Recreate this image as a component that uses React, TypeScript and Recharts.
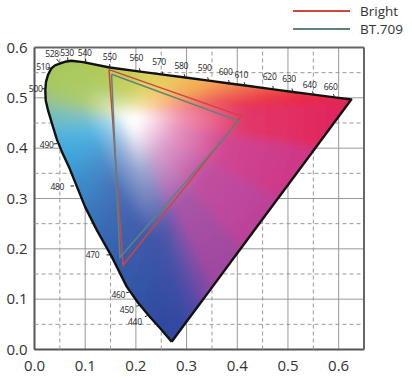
import React from "react";
import { ScatterChart, Scatter, XAxis, YAxis, CartesianGrid } from "recharts";

// axes
const xDomain = [0, 0.65];
const yDomain = [0, 0.6];
const xTicks = [0, 0.1, 0.2, 0.3, 0.4, 0.5, 0.6];
const yTicks = [0, 0.1, 0.2, 0.3, 0.4, 0.5, 0.6];
const xHalfTicks = [0.05, 0.15, 0.25, 0.35, 0.45, 0.55];
const yHalfTicks = [0.05, 0.15, 0.25, 0.35, 0.45, 0.55];

// spectral locus (u', v'), starting at the blue tip, round the horseshoe, back along the purple line
const locusU = [
  0.2706, 0.2475, 0.2278, 0.2047, 0.1819, 0.1523, 0.1227, 0.0996, 0.0799, 0.068,
  0.0542, 0.0444, 0.0365, 0.0266, 0.0221, 0.0213, 0.0227, 0.0266, 0.0331, 0.0404,
  0.0497, 0.0602, 0.0726, 0.0957, 0.1483, 0.2087, 0.2535, 0.2974, 0.3436, 0.385,
  0.4158, 0.4718, 0.5099, 0.5507, 0.5921, 0.6249, 0.5537, 0.4801, 0.4065, 0.3476,
  0.3255, 0.3034,
];
const locusV = [
  0.0155, 0.0427, 0.0646, 0.0924, 0.1249, 0.1845, 0.2376, 0.2839, 0.333, 0.3628,
  0.3926, 0.4165, 0.4423, 0.4755, 0.4954, 0.5153, 0.5318, 0.5457, 0.5583, 0.5646,
  0.5682, 0.5716, 0.5736, 0.571, 0.5602, 0.5521, 0.5461, 0.5404, 0.5342, 0.5286,
  0.5245, 0.5169, 0.5117, 0.5064, 0.5008, 0.4966, 0.4, 0.3, 0.2, 0.12,
  0.09, 0.06,
];
// colour of the diagram along the locus
const locusColors = [
  "#2c469e", "#2e4aa2", "#2f4ea4", "#3152a6", "#3256a8", "#3460ae", "#366cb6", "#387cc0", "#3a8ecc", "#3c9cd6",
  "#40a8dc", "#48b0de", "#5cb6d4", "#80bfb0", "#96c48a", "#a2c66c", "#a6c860", "#a8c85c", "#a8c85a", "#a8c85a",
  "#a8c85a", "#a8c85a", "#a9c858", "#aac858", "#b4ca52", "#d0d058", "#e4d060", "#f0c058", "#f4a852", "#f49050",
  "#f07850", "#ec5048", "#ea3a44", "#e82a42", "#e82240", "#e81e40", "#d8307a", "#c23e94", "#b4449c", "#8c48a2",
  "#6048a6", "#3a4aa4",
];
const whitePoint = { u: 0.19, v: 0.46 };

// gamut triangles
const brightU = [0.147, 0.408, 0.1746];
const brightV = [0.556, 0.4636, 0.1674];
const bt709U = [0.152, 0.403, 0.1686];
const bt709V = [0.547, 0.454, 0.1833];

// wavelength marks: tick on the locus and label centre
const markNm = [440, 450, 460, 470, 480, 490, 500, 510, 528, 530, 540, 550, 560, 570, 580, 590, 600, 610, 620, 630, 640, 660];
const markU = [0.2239, 0.2075, 0.1878, 0.1489, 0.0779, 0.0444, 0.0217, 0.0325, 0.0483, 0.0661, 0.1016, 0.1483, 0.2087, 0.2535, 0.2974, 0.3436, 0.385, 0.4158, 0.4718, 0.5099, 0.5507, 0.5921];
const markV = [0.068, 0.0879, 0.1143, 0.1879, 0.325, 0.4091, 0.5179, 0.5586, 0.5716, 0.5736, 0.5706, 0.5602, 0.5521, 0.5461, 0.5404, 0.5342, 0.5286, 0.5245, 0.5169, 0.5117, 0.5064, 0.5008];
const labelU = [0.198, 0.1819, 0.1653, 0.1144, 0.045, 0.0241, 0.0024, 0.0168, 0.0345, 0.0641, 0.099, 0.1483, 0.2008, 0.2456, 0.2895, 0.3357, 0.3771, 0.4079, 0.4639, 0.502, 0.5428, 0.5842];
const labelV = [0.0553, 0.0799, 0.1097, 0.1885, 0.3237, 0.4066, 0.5185, 0.5616, 0.5875, 0.5895, 0.5895, 0.5815, 0.5795, 0.5716, 0.565, 0.5602, 0.5517, 0.5471, 0.5431, 0.5384, 0.5272, 0.5233];

const series = [
  { name: "Bright", color: "#d0453c" },
  { name: "BT.709", color: "#5e8282" },
];

const FONT = "'Open Sans', 'Noto Sans', sans-serif";

type Pt = { x: number; y: number };
type RGB = number[];

const rgb = (h: string): RGB => {
  const n = parseInt(h.slice(1), 16);
  return [(n >> 16) & 255, (n >> 8) & 255, n & 255];
};
const mixRgb = (a: RGB, b: RGB, t: number): RGB => a.map((v, i) => Math.round(v + (b[i] - v) * t));
const css = (c: RGB) => `rgb(${c.join(",")})`;

const locusData = locusU.map((u, i) => ({ u, v: locusV[i] }));
const fanData = [whitePoint, ...locusData];
const outlineData = [...locusData, locusData[0]];
const brightData = [...brightU, brightU[0]].map((u, i) => ({ u, v: [...brightV, brightV[0]][i] }));
const bt709Data = [...bt709U, bt709U[0]].map((u, i) => ({ u, v: [...bt709V, bt709V[0]][i] }));

const dashedGrid = [
  ...xHalfTicks.flatMap((u) => [{ u, v: yDomain[0] }, { u, v: yDomain[1] }]),
  ...yHalfTicks.flatMap((v) => [{ u: xDomain[0], v }, { u: xDomain[1], v }]),
];
const frameData = [
  { u: xDomain[0], v: yDomain[1] }, { u: xDomain[1], v: yDomain[1] },
  { u: xDomain[1], v: yDomain[0] }, { u: xDomain[1], v: yDomain[1] },
];
const markTickData = markNm.flatMap((_, i) => [
  { u: markU[i], v: markV[i] },
  { u: labelU[i], v: labelV[i] },
]);
const markLabelData = markNm.map((nm, i) => ({ u: labelU[i], v: labelV[i], nm }));

const noShape = () => <g />;

function segments(style: Record<string, any>) {
  return (props: any) => {
    const p: Pt[] = props.points || [];
    let d = "";
    for (let i = 0; i + 1 < p.length; i += 2) d += `M${p[i].x},${p[i].y}L${p[i + 1].x},${p[i + 1].y}`;
    return <path d={d} fill="none" {...style} />;
  };
}

function markTicks(props: any) {
  const p: Pt[] = props.points || [];
  let d = "";
  for (let i = 0; i + 1 < p.length; i += 2) {
    const dx = p[i + 1].x - p[i].x;
    const dy = p[i + 1].y - p[i].y;
    const len = Math.hypot(dx, dy) || 1;
    d += `M${p[i].x},${p[i].y}L${p[i].x + (dx / len) * 3.5},${p[i].y + (dy / len) * 3.5}`;
  }
  return <path d={d} fill="none" stroke="#222" strokeWidth={1} />;
}

// colour fill: a fan of triangles from the white point, each shading from the locus colour to white
function fan(props: any) {
  const pts: Pt[] = props.points || [];
  if (pts.length < 4) return <g />;
  const w = pts[0];
  const ring = pts.slice(1);
  const n = ring.length;
  const grow = (p: Pt) => ({ x: w.x + (p.x - w.x) * 1.15, y: w.y + (p.y - w.y) * 1.15 });
  const clip = "M" + ring.map((p) => `${p.x},${p.y}`).join("L") + "Z";
  const white: RGB = [255, 255, 255];
  return (
    <g>
      <defs>
        <clipPath id="locusClip">
          <path d={clip} />
        </clipPath>
        <filter id="locusBlur" x="-10%" y="-10%" width="120%" height="120%">
          <feGaussianBlur stdDeviation={5} />
        </filter>
        {ring.map((p, i) => {
          const q = ring[(i + 1) % n];
          const c = mixRgb(rgb(locusColors[i]), rgb(locusColors[(i + 1) % n]), 0.5);
          return (
            <linearGradient
              key={i}
              id={`fan${i}`}
              gradientUnits="userSpaceOnUse"
              x1={(p.x + q.x) / 2}
              y1={(p.y + q.y) / 2}
              x2={w.x}
              y2={w.y}
            >
              <stop offset={0} stopColor={css(c)} />
              <stop offset={0.45} stopColor={css(mixRgb(c, white, 0.08))} />
              <stop offset={0.75} stopColor={css(mixRgb(c, white, 0.5))} />
              <stop offset={0.95} stopColor="#ffffff" />
            </linearGradient>
          );
        })}
      </defs>
      <g clipPath="url(#locusClip)">
        <g filter="url(#locusBlur)">
          {ring.map((p, i) => {
            const a = grow(p);
            const b = grow(ring[(i + 1) % n]);
            return (
              <path
                key={i}
                d={`M${w.x},${w.y}L${a.x},${a.y}L${b.x},${b.y}Z`}
                fill={`url(#fan${i})`}
                stroke={`url(#fan${i})`}
                strokeWidth={1.2}
              />
            );
          })}
        </g>
      </g>
    </g>
  );
}

const markLabel = (props: any) => {
  const nm = props.payload?.nm;
  return (
    <text
      x={props.cx}
      y={props.cy}
      textAnchor="middle"
      dominantBaseline="central"
      fontFamily={FONT}
      fontSize={8.5}
      letterSpacing={-0.3}
      fill="#222"
    >
      {nm}
    </text>
  );
};

const tickStyle = { fill: "#333", fontSize: 15, fontFamily: FONT };

export default function App() {
  return (
    <div style={{ position: "absolute", left: 0, top: 0, width: 412, height: 381, background: "#fff" }}>
      <ScatterChart width={412} height={381} margin={{ top: 47.5, right: 48, bottom: 0, left: 0 }}>
        <CartesianGrid stroke="#999" strokeWidth={1} />
        <XAxis
          type="number"
          dataKey="u"
          domain={xDomain}
          ticks={xTicks}
          interval={0}
          tickFormatter={(v: number) => v.toFixed(1)}
          tick={tickStyle}
          tickLine={false}
          tickSize={0}
          tickMargin={11}
          height={31.5}
          axisLine={{ stroke: "#555", strokeWidth: 2 }}
        />
        <YAxis
          type="number"
          dataKey="v"
          domain={yDomain}
          ticks={yTicks}
          interval={0}
          tickFormatter={(v: number) => v.toFixed(1)}
          tick={tickStyle}
          tickLine={false}
          tickSize={0}
          tickMargin={7}
          width={34.5}
          axisLine={{ stroke: "#555", strokeWidth: 2 }}
        />
        <Scatter
          data={dashedGrid}
          shape={noShape}
          line={segments({ stroke: "#999", strokeWidth: 1, strokeDasharray: "4 3" })}
          lineType="joint"
          legendType="none"
          isAnimationActive={false}
        />
        <Scatter
          data={frameData}
          shape={noShape}
          line={segments({ stroke: "#666", strokeWidth: 2 })}
          lineType="joint"
          legendType="none"
          isAnimationActive={false}
        />
        <Scatter data={fanData} shape={noShape} line={fan} lineType="joint" legendType="none" isAnimationActive={false} />
        <Scatter
          data={outlineData}
          shape={noShape}
          line={{ stroke: "#111", strokeWidth: 2.4, strokeLinejoin: "round" }}
          lineType="joint"
          legendType="none"
          isAnimationActive={false}
        />
        <Scatter
          name={series[0].name}
          data={brightData}
          shape={noShape}
          line={{ stroke: series[0].color, strokeWidth: 1.5 }}
          lineType="joint"
          isAnimationActive={false}
        />
        <Scatter
          name={series[1].name}
          data={bt709Data}
          shape={noShape}
          line={{ stroke: series[1].color, strokeWidth: 1.5 }}
          lineType="joint"
          isAnimationActive={false}
        />
        <Scatter data={markTickData} shape={noShape} line={markTicks} lineType="joint" legendType="none" isAnimationActive={false} />
        <Scatter data={markLabelData} shape={markLabel} legendType="none" isAnimationActive={false} />
      </ScatterChart>
      <div style={{ position: "absolute", left: 293, top: 2, fontFamily: FONT, fontSize: 13.5, color: "#333" }}>
        {series.map((s) => (
          <div key={s.name} style={{ display: "flex", alignItems: "center", height: 18 }}>
            <span style={{ display: "inline-block", width: 57, height: 0, borderTop: `2px solid ${s.color}`, marginRight: 10 }} />
            <span>{s.name}</span>
          </div>
        ))}
      </div>
    </div>
  );
}
